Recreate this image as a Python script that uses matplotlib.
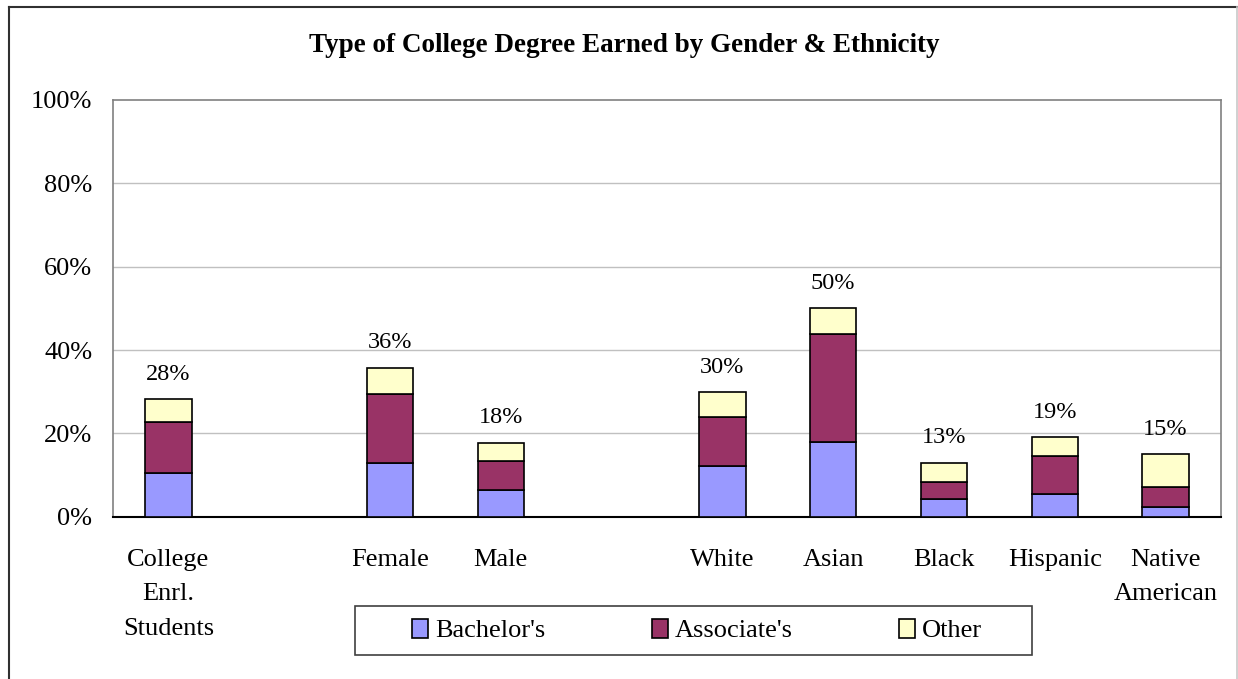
import matplotlib
matplotlib.use("Agg")
import matplotlib.pyplot as plt
from matplotlib.lines import Line2D
from matplotlib.patches import Rectangle
import numpy as np

plt.rcParams['font.family'] = ['Liberation Serif', 'DejaVu Serif']

# data (percent)
categories = ["College\nEnrl.\nStudents", "Female", "Male", "White", "Asian",
              "Black", "Hispanic", "Native\nAmerican"]
slots = [0, 2, 3, 5, 6, 7, 8, 9]   # gaps between groups
bachelors = [10.6, 13.0, 6.3, 12.2, 17.9, 4.3, 5.5, 2.3]
associates = [12.2, 16.4, 7.1, 11.8, 25.9, 4.0, 9.1, 4.8]
other = [5.4, 6.3, 4.3, 5.9, 6.2, 4.7, 4.5, 7.9]
total_labels = ["28%", "36%", "18%", "30%", "50%", "13%", "19%", "15%"]
yticks = [0, 20, 40, 60, 80, 100]

series_names = ["Bachelor's", "Associate's", "Other"]
colors = ["#9999FF", "#993366", "#FFFFCC"]

fx = lambda px: px / 1238
fy = lambda py: 1 - py / 679

fig = plt.figure(figsize=(12.38, 6.79), dpi=100)
ax = fig.add_axes([fx(113), fy(516.7), (1221-113)/1238, (516.7-100)/679])

x = np.array(slots)
w = 0.42
b1 = np.array(bachelors)
b2 = np.array(associates)
b3 = np.array(other)
ax.bar(x, b1, w, color=colors[0], edgecolor="black", linewidth=1.2, label=series_names[0], zorder=3)
ax.bar(x, b2, w, bottom=b1, color=colors[1], edgecolor="black", linewidth=1.2, label=series_names[1], zorder=3)
ax.bar(x, b3, w, bottom=b1 + b2, color=colors[2], edgecolor="black", linewidth=1.2, label=series_names[2], zorder=3)

tops = b1 + b2 + b3
for xi, t, lab in zip(x, tops, total_labels):
    ax.annotate(lab, (xi, t), xytext=(0, 10.5), textcoords="offset points",
                ha="center", va="bottom", fontsize=17.5)

ax.set_xlim(-0.5, 9.5)
ax.set_ylim(0, 100)
ax.set_yticks(yticks)
ax.set_yticklabels([f"{v}%" for v in yticks], fontsize=19)
ax.set_xticks(x)
ax.set_xticklabels(categories, fontsize=19, linespacing=1.75, va="top")
ax.tick_params(axis="y", length=0, pad=15)
ax.tick_params(axis="x", length=0, pad=23)

for v in yticks[1:-1]:
    ax.axhline(v, color="#C0C0C0", linewidth=1, zorder=1)
for s in ["top", "right", "left"]:
    ax.spines[s].set_color("#808080")
    ax.spines[s].set_linewidth(1.2)
ax.spines["bottom"].set_color("black")
ax.spines["bottom"].set_linewidth(1.5)

fig.text(fx(624), fy(45), "Type of College Degree Earned by Gender & Ethnicity",
         ha="center", va="center", fontsize=19.5, fontweight="bold")

leg = fig.legend(loc="center", bbox_to_anchor=(fx(697), fy(630.5)), ncol=3,
                 fontsize=19, frameon=False, handlelength=0.6,
                 handleheight=0.75, handletextpad=0.25, columnspacing=4.05,
                 borderpad=0, borderaxespad=0)
for h in leg.legend_handles:
    h.set_edgecolor("black")
    h.set_linewidth(1.2)
# legend box
fig.add_artist(Rectangle((fx(355), fy(655)), (1032-355)/1238, (655-606)/679,
                         transform=fig.transFigure, fill=False,
                         edgecolor="#404040", linewidth=1.2))

# outer chart border: dark top/left, light right
fig.add_artist(Line2D([fx(9), fx(9)], [fy(7), fy(690)], color="#303030", linewidth=1.5))
fig.add_artist(Line2D([fx(9), fx(1238)], [fy(7), fy(7)], color="#303030", linewidth=1.5))
fig.add_artist(Line2D([fx(1236.5), fx(1236.5)], [fy(7), fy(690)], color="#C8C8C8", linewidth=1.2))

fig.savefig("out.png", dpi=100)
